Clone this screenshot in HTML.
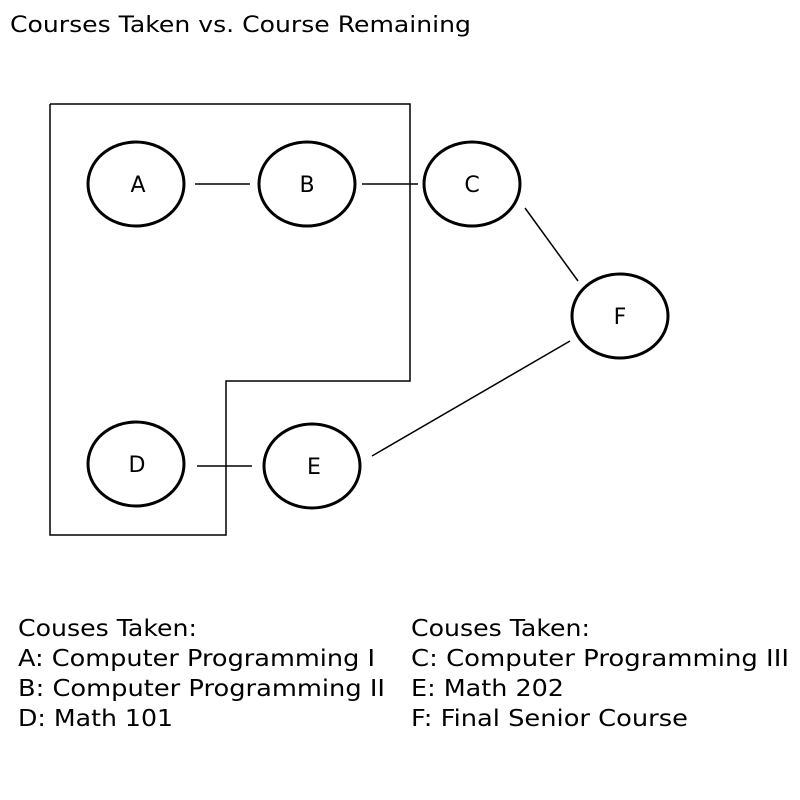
<!DOCTYPE html>
<html><head><style>html,body{margin:0;padding:0;background:#fff;}svg{display:block}</style></head>
<body>
<svg width="800" height="800" xmlns="http://www.w3.org/2000/svg" font-family="'DejaVu Sans','Liberation Sans',sans-serif" fill="#000">
<rect width="800" height="800" fill="#fff"/>
<text x="10" y="32" font-size="22" textLength="461" lengthAdjust="spacingAndGlyphs">Courses Taken vs. Course Remaining</text>
<g fill="none" stroke="#000">
<polyline points="50,104 410,104 410,381 226,381 226,535 50,535 50,104" stroke-width="1.5"/>
<g stroke-width="3">
<ellipse cx="136" cy="184" rx="48" ry="42"/>
<ellipse cx="307" cy="184" rx="48" ry="42"/>
<ellipse cx="472" cy="184" rx="48" ry="42"/>
<ellipse cx="620" cy="316" rx="48" ry="42"/>
<ellipse cx="136" cy="464" rx="48" ry="42"/>
<ellipse cx="312" cy="466" rx="48" ry="42"/>
</g>
<g stroke-width="1.5">
<line x1="195" y1="184" x2="250" y2="184"/>
<line x1="362" y1="184" x2="418" y2="184"/>
<line x1="525" y1="208" x2="578" y2="281"/>
<line x1="570" y1="341" x2="372" y2="456"/>
<line x1="197" y1="466" x2="252" y2="466"/>
</g>
</g>
<g font-size="22" text-anchor="middle">
<text x="138" y="192">A</text>
<text x="307" y="192">B</text>
<text x="472" y="192">C</text>
<text x="620" y="324">F</text>
<text x="137" y="472">D</text>
<text x="314" y="474">E</text>
</g>
<g font-size="23">
<text x="18" y="636" textLength="179" lengthAdjust="spacingAndGlyphs">Couses Taken:</text>
<text x="18" y="666" textLength="357" lengthAdjust="spacingAndGlyphs">A: Computer Programming I</text>
<text x="18" y="696" textLength="367" lengthAdjust="spacingAndGlyphs">B: Computer Programming II</text>
<text x="18" y="726" textLength="155" lengthAdjust="spacingAndGlyphs">D: Math 101</text>
<text x="411" y="636" textLength="179" lengthAdjust="spacingAndGlyphs">Couses Taken:</text>
<text x="411" y="666" textLength="378" lengthAdjust="spacingAndGlyphs">C: Computer Programming III</text>
<text x="411" y="696" textLength="153" lengthAdjust="spacingAndGlyphs">E: Math 202</text>
<text x="411" y="726" textLength="277" lengthAdjust="spacingAndGlyphs">F: Final Senior Course</text>
</g>
</svg>
</body></html>
